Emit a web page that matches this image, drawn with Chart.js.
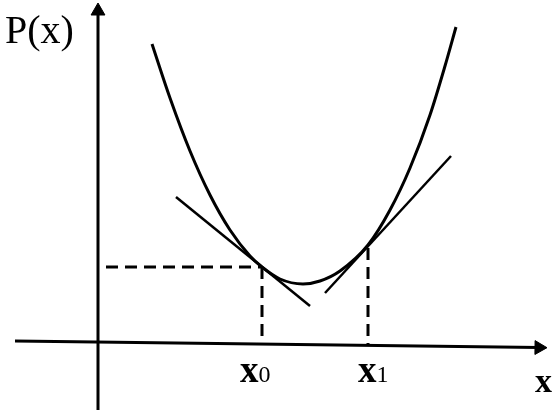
<!DOCTYPE html>
<html>
<head>
<meta charset="utf-8">
<script src="https://cdn.jsdelivr.net/npm/chart.js@4/dist/chart.umd.min.js"></script>
<style>
  html, body { margin: 0; padding: 0; background: #fff; }
  #wrap { width: 560px; height: 413px; position: relative; }
</style>
</head>
<body>
<div id="wrap"><canvas id="diagram"></canvas></div>
<script>
// Values: 1 unit = 20 px, origin where the two axes cross
const curveX = [2.7, 3.6, 4.6, 5.6, 6.6, 7.6, 8.2, 9.1, 10.25, 11.1, 12.1, 13.5, 14.6, 15.6, 16.6, 17.35, 17.9];
const curveY = [14.9, 12.2, 9.55, 7.35, 5.6, 4.3, 3.75, 3.15, 2.9, 3.05, 3.55, 4.85, 6.6, 8.7, 11.35, 13.8, 15.75];

const tangent0X = [3.9, 10.6];
const tangent0Y = [7.25, 1.8];
const tangent1X = [11.35, 17.65];
const tangent1Y = [2.45, 9.3];

const guideHX = [0.4, 8.2];
const guideHY = [3.75, 3.75];
const guide0X = [8.2, 8.2];
const guide0Y = [3.75, -0.1];
const guide1X = [13.5, 13.5];
const guide1Y = [4.7, -0.17];

const axisXX = [-4.15, 22.05];
const axisXY = [0.05, -0.28];
const axisYX = [0, 0];
const axisYY = [-3.4, 16.55];

const yTitle = 'P(x)';
const xTitle = 'x';
const pointNames = ['x', 'x'];
const pointSubs = ['0', '1'];
const pointAt = [7.1, 13.0];

function pts(xs, ys) {
  return xs.map((x, i) => ({ x: x, y: ys[i] }));
}

const black = '#000';
const serif = '"Liberation Serif", "Times New Roman", serif';

const plain = {
  type: 'line',
  borderColor: black,
  pointRadius: 0,
  pointHoverRadius: 0,
  fill: false,
  tension: 0
};

// text labels drawn at data positions
const labelPlugin = {
  id: 'labels',
  afterDatasetsDraw(chart) {
    const { ctx, scales } = chart;
    const sx = scales.x, sy = scales.y;
    ctx.save();
    ctx.fillStyle = black;
    ctx.textBaseline = 'alphabetic';
    ctx.textAlign = 'left';

    ctx.font = '40px ' + serif;
    ctx.fillText(yTitle, sx.getPixelForValue(-4.65), sy.getPixelForValue(14.95));

    ctx.font = 'bold 34px ' + serif;
    ctx.fillText(xTitle, sx.getPixelForValue(21.85), sy.getPixelForValue(-2.5));

    pointNames.forEach((name, i) => {
      const px = sx.getPixelForValue(pointAt[i]);
      const py = sy.getPixelForValue(-2.0);
      ctx.font = 'bold 37px ' + serif;
      ctx.fillText(name, px, py);
      const w = ctx.measureText(name).width;
      ctx.font = '24px ' + serif;
      ctx.fillText(pointSubs[i], px + w, py);
    });
    ctx.restore();
  }
};

function draw() {
  new Chart(document.getElementById('diagram'), {
    type: 'line',
    data: {
      datasets: [
        Object.assign({}, plain, {
          data: pts(axisXX, axisXY),
          borderWidth: 3,
          pointRadius: [0, 8],
          pointStyle: 'triangle',
          rotation: 90.7,
          pointBackgroundColor: black,
          pointBorderColor: black,
          pointBorderWidth: 1
        }),
        Object.assign({}, plain, {
          data: pts(axisYX, axisYY),
          borderWidth: 3,
          pointRadius: [0, 8],
          pointStyle: 'triangle',
          rotation: 0,
          pointBackgroundColor: black,
          pointBorderColor: black,
          pointBorderWidth: 1
        }),
        Object.assign({}, plain, { data: pts(guideHX, guideHY), borderWidth: 3, borderDash: [12, 7] }),
        Object.assign({}, plain, { data: pts(guide0X, guide0Y), borderWidth: 3, borderDash: [12, 7] }),
        Object.assign({}, plain, { data: pts(guide1X, guide1Y), borderWidth: 3, borderDash: [12, 7] }),
        Object.assign({}, plain, { data: pts(tangent0X, tangent0Y), borderWidth: 2.5 }),
        Object.assign({}, plain, { data: pts(tangent1X, tangent1Y), borderWidth: 2.5 }),
        Object.assign({}, plain, {
          data: pts(curveX, curveY),
          borderWidth: 3,
          cubicInterpolationMode: 'monotone'
        })
      ]
    },
    options: {
      responsive: true,
      maintainAspectRatio: false,
      animation: false,
      events: [],
      layout: { padding: 0, autoPadding: false },
      plugins: {
        legend: { display: false },
        tooltip: { enabled: false }
      },
      scales: {
        x: { type: 'linear', display: false, min: -4.9, max: 23.1 },
        y: { type: 'linear', display: false, min: -3.55, max: 17.1 }
      }
    },
    plugins: [labelPlugin]
  });
}

Promise.all([
  document.fonts.load('40px "Liberation Serif"'),
  document.fonts.load('bold 37px "Liberation Serif"')
]).then(draw, draw);
</script>
</body>
</html>
